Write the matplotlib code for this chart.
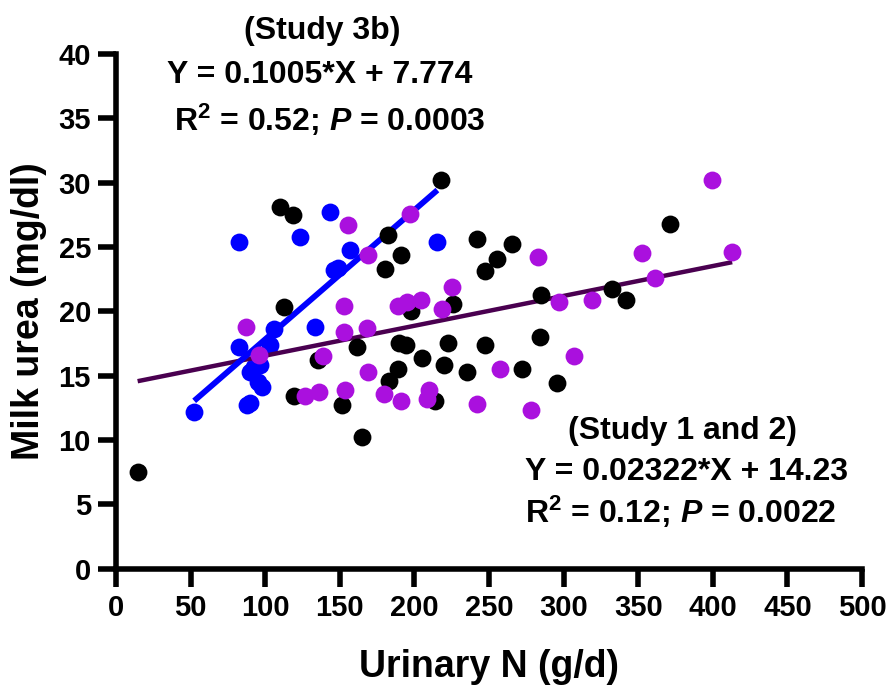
import numpy as np
import matplotlib
matplotlib.use("Agg")
import matplotlib.pyplot as plt

# Study 1 (black) and Study 2 (purple): urinary N (g/d) vs milk urea (mg/dl)
study1_x = [14.5, 110, 118.3, 112.3, 119.4, 135.3, 151.4, 161.4, 164.8, 180.4,
            182.2, 183, 189.3, 189.7, 190.9, 194.4, 197.8, 205, 213.9, 218,
            220, 222.8, 225.7, 235.1, 241.8, 247.3, 247.3, 255.2, 265.2, 272.3,
            284.4, 284.9, 295.8, 332.4, 342, 371.5]
study1_y = [7.5, 28.1, 27.5, 20.3, 13.4, 16.2, 12.7, 17.2, 10.2, 23.3,
            25.9, 14.6, 15.5, 17.5, 24.4, 17.4, 20.0, 16.4, 13.05, 30.2,
            15.8, 17.5, 20.6, 15.3, 25.6, 23.1, 17.4, 24.1, 25.2, 15.5,
            18.0, 21.3, 14.4, 21.7, 20.9, 26.8]

study2_x = [87.3, 96, 126.8, 136.2, 138.6, 152.9, 152.9, 153.6, 155.8, 168.1,
            169.2, 169.2, 179.9, 189.3, 190.9, 195.3, 197.1, 204.3, 208.7, 210,
            218.3, 225, 241.8, 257.4, 278, 283, 297, 307, 318.8, 352.5,
            361.2, 399.6, 413]
study2_y = [18.8, 16.6, 13.4, 13.7, 16.5, 20.4, 18.4, 13.9, 26.7, 18.7,
            24.4, 15.3, 13.6, 20.4, 13.05, 20.7, 27.6, 20.9, 13.15, 13.9,
            20.2, 21.9, 12.8, 15.5, 12.3, 24.2, 20.7, 16.5, 20.9, 24.5,
            22.6, 30.2, 24.6]

# Study 3b (blue)
study3_x = [52.4, 82.6, 82.6, 88.0, 89.5, 89.5, 92.5, 95.5, 96.6, 97.8,
            103, 105.6, 123, 133.7, 143.5, 145.8, 149, 157, 215.4]
study3_y = [12.2, 25.4, 17.2, 12.7, 12.9, 15.3, 15.7, 14.5, 15.8, 14.1,
            17.4, 18.6, 25.8, 18.8, 27.7, 23.2, 23.4, 24.8, 25.4]

# Fitted regressions
fit12_slope, fit12_icpt = 0.02322, 14.23
fit3_slope, fit3_icpt = 0.1005, 7.774

x_ticks = [0, 50, 100, 150, 200, 250, 300, 350, 400, 450, 500]
y_ticks = [0, 5, 10, 15, 20, 25, 30, 35, 40]

plt.rcParams['font.family'] = ['Liberation Sans', 'DejaVu Sans']
plt.rcParams['font.weight'] = 'bold'
plt.rcParams['mathtext.fontset'] = 'custom'
plt.rcParams['mathtext.rm'] = 'Liberation Sans:bold'
plt.rcParams['mathtext.bf'] = 'Liberation Sans:bold'
plt.rcParams['mathtext.it'] = 'Liberation Sans:italic:bold'

W, H = 892, 700
fig = plt.figure(figsize=(W / 100, H / 100), dpi=100)
ax = fig.add_axes([116 / W, 1 - 568.6 / H, (862 - 116) / W, (568.6 - 54) / H])

ms = 165
ax.scatter(study3_x, study3_y, s=ms, color='#0000FF', linewidths=0, zorder=2)

xl12 = np.array([min(study1_x + study2_x), max(study1_x + study2_x)])
ax.plot(xl12, fit12_slope * xl12 + fit12_icpt, color='#4A0050', lw=3.2,
        solid_capstyle='butt', zorder=3)
xl3 = np.array([min(study3_x), max(study3_x)])
ax.plot(xl3, fit3_slope * xl3 + fit3_icpt, color='#0000FF', lw=4.2,
        solid_capstyle='butt', zorder=3)

ax.scatter(study1_x, study1_y, s=ms, color='black', linewidths=0, zorder=4)
ax.scatter(study2_x, study2_y, s=ms, color='#AA10DE', linewidths=0, zorder=5)

ax.set_xlim(0, 500)
ax.set_ylim(0, 40)
ax.set_xticks(x_ticks)
ax.set_yticks(y_ticks)
ax.set_xticklabels([str(v) for v in x_ticks])
ax.set_yticklabels([str(v) for v in y_ticks])
ax.tick_params(width=4, length=13, labelsize=21, pad=5, color='black')
for lab in ax.get_xticklabels() + ax.get_yticklabels():
    lab.set_fontweight('bold')
for side in ('top', 'right'):
    ax.spines[side].set_visible(False)
for side in ('left', 'bottom'):
    ax.spines[side].set_linewidth(4)
    ax.spines[side].set_capstyle('projecting')

ax.set_xlabel('Urinary N (g/d)', fontsize=27, fontweight='bold', labelpad=20)
ax.set_ylabel('Milk urea (mg/dl)', fontsize=27, fontweight='bold', labelpad=8)

def ftext(px, py, s, ha='center'):
    fig.text(px / W, 1 - py / H, s, ha=ha, va='center', fontsize=23,
             fontweight='bold')

ftext(322, 31, '(Study 3b)')
ftext(320, 75, 'Y = 0.1005*X + 7.774')
ftext(330, 120, 'R$^{2}$ = 0.52; $\\it{P}$ = 0.0003')

ftext(682, 431, '(Study 1 and 2)')
ftext(525, 472, 'Y = 0.02322*X + 14.23', ha='left')
ftext(525, 512, 'R$^{2}$ = 0.12; $\\it{P}$ = 0.0022', ha='left')

fig.savefig('out.png', dpi=100)
